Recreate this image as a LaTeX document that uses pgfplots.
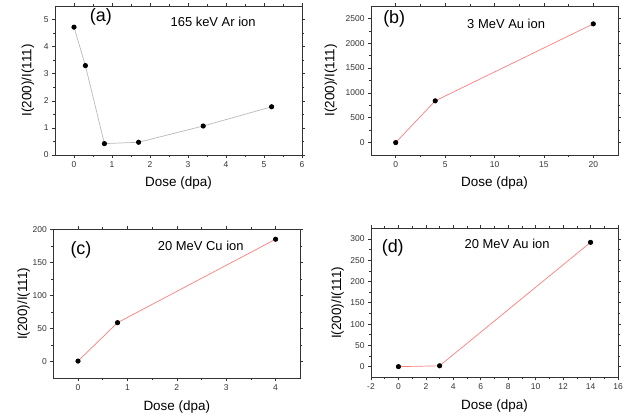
\documentclass[border=0pt]{standalone}
\usepackage{fontspec}
\setmainfont{Liberation Sans}
\usepackage{pgfplots}
\pgfplotsset{compat=1.18}
\definecolor{lred}{RGB}{255,125,125}
\definecolor{lgray}{RGB}{185,185,185}
\tikzset{
  plab/.style={font=\fontsize{18}{20}\selectfont, anchor=center},
  ann/.style={font=\fontsize{13}{14}\selectfont, anchor=center},
}
\pgfplotsset{
  panel/.style={
    scale only axis, width=247bp, height=149bp,
    axis line style={black!80, line width=0.8bp},
    tick style={black!80, line width=0.6bp},
    major tick length=3bp, minor tick length=2bp,
    tick align=outside,
    minor tick num=1,
    tick label style={font=\fontsize{8.5}{9}\selectfont, text=black!80},
    /pgf/number format/assume math mode=true,
    /pgf/number format/1000 sep={},
    label style={font=\fontsize{13.5}{14}\selectfont},
    xlabel={Dose (dpa)}, ylabel={I(200)/I(111)},
    xlabel style={at={(axis description cs:0.5,-0.19)}, anchor=center},
    every axis plot/.append style={line width=0.7bp, mark=*, mark size=2.2bp,
      mark options={fill=black, draw=black, solid}},
  },
}
\begin{document}
\begin{tikzpicture}
\useasboundingbox (0bp,0bp) rectangle (632bp,418bp);

% (a)
\begin{axis}[panel, at={(55bp,263bp)}, anchor=south west,
  xmin=-0.5, xmax=6, ymin=0, ymax=5.5,
  xtick={0,1,2,3,4,5,6}, ytick={0,1,2,3,4,5},
  ylabel style={at={(axis description cs:-0.11,0.5)}, anchor=center}]
\addplot[lgray] coordinates {(0,4.72) (0.3,3.3) (0.8,0.42) (1.7,0.47) (3.4,1.07) (5.2,1.78)};
\node[plab] at (rel axis cs:0.186,0.926) {(a)};
\node[ann] at (rel axis cs:0.64,0.893) {165 keV Ar ion};
\end{axis}

% (b)
\begin{axis}[panel, at={(371bp,263bp)}, anchor=south west,
  xmin=-2.5, xmax=22.5, ymin=-250, ymax=2750,
  xtick={0,5,10,15,20}, ytick={0,500,1000,1500,2000,2500},
  ylabel style={at={(axis description cs:-0.162,0.5)}, anchor=center}]
\addplot[lred] coordinates {(0,0) (4,840) (20,2390)};
\node[plab] at (rel axis cs:0.094,0.917) {(b)};
\node[ann] at (rel axis cs:0.547,0.879) {3 MeV Au ion};
\end{axis}

% (c)
\begin{axis}[panel, at={(53.3bp,39.7bp)}, anchor=south west,
  xmin=-0.5, xmax=4.5, ymin=-25, ymax=200,
  xtick={0,1,2,3,4}, ytick={0,50,100,150,200},
  ylabel style={at={(axis description cs:-0.12,0.5)}, anchor=center}]
\addplot[lred] coordinates {(0,1) (0.8,59) (4,185)};
\node[plab] at (rel axis cs:0.112,0.865) {(c)};
\node[ann] at (rel axis cs:0.597,0.892) {20 MeV Cu ion};
\end{axis}

% (d)
\begin{axis}[panel, at={(371bp,40.7bp)}, anchor=south west,
  xmin=-2, xmax=16, ymin=-25, ymax=325,
  xtick={-2,0,2,4,6,8,10,12,14,16}, ytick={0,50,100,150,200,250,300},
  ylabel style={at={(axis description cs:-0.135,0.5)}, anchor=center}]
\addplot[lred] coordinates {(0,0) (3,2) (14,292)};
\node[plab] at (rel axis cs:0.088,0.869) {(d)};
\node[ann] at (rel axis cs:0.551,0.896) {20 MeV Au ion};
\end{axis}
\end{tikzpicture}
\end{document}
